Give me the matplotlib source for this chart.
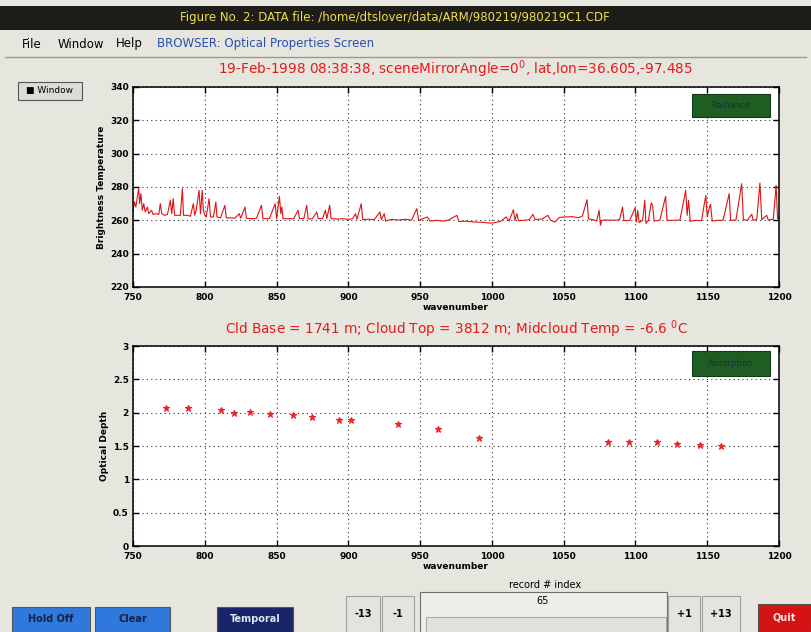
import numpy as np
import matplotlib.pyplot as plt
from matplotlib.patches import Rectangle

# ----------------------------------------------------------------- #
# Données
wavenumber = [750, 751, 752, 753, 754, 754.6, 755.5, 756.5, 757.5, 758.5, 760, 761, 763, 764,
              766, 768, 769, 770, 772, 774, 776, 777, 778, 779, 781, 783, 784.4, 785.2, 788,
              790, 792, 793, 794, 796, 797, 798.2, 799, 800, 801, 803, 804, 806, 807.7, 808.5,
              811, 814, 815, 818, 821, 824, 825, 828, 829, 833, 836, 839.5, 840.5, 845, 849,
              850, 852, 853, 853.7, 854.5, 858, 862, 865, 866, 869, 871, 872, 875, 878, 879,
              882, 884, 885, 887, 888, 892, 896, 900, 903, 905, 906, 909, 910, 914, 918, 922,
              923, 925, 926, 930, 935, 940, 944, 947.7, 949, 952, 955, 957, 962, 966, 970,
              975.6, 977, 982, 988, 994, 999, 1002, 1006, 1010, 1012, 1015, 1016, 1017.4,
              1018.5, 1022, 1026, 1028.6, 1030, 1035, 1039, 1041, 1044, 1047, 1052, 1056,
              1060, 1063, 1066.3, 1067.3, 1070, 1073, 1074.7, 1075.6, 1076.5, 1080, 1085,
              1089, 1091, 1092, 1096, 1099.8, 1100.6, 1101.6, 1102.6, 1105, 1106.5, 1107.3,
              1109, 1111, 1112, 1113, 1117, 1121, 1122, 1126, 1131, 1135, 1136, 1137, 1138.2,
              1142, 1146, 1149, 1150, 1151, 1152.3, 1153.5, 1157, 1161, 1165.3, 1166.3, 1170,
              1174, 1175.2, 1178, 1181, 1182, 1184.5, 1186.7, 1188, 1191.4, 1192.5, 1196,
              1198, 1199, 1200]
bright_temp = [266, 271, 268, 274, 279, 270, 276, 266, 270, 265, 268, 264, 266, 263.5,
               264, 263.5, 270, 264, 263, 263.5, 272, 264, 273, 263, 263, 263, 279, 263, 263,
               262.5, 270, 263, 266, 278, 264, 278, 266, 263, 262, 273, 262, 262, 271, 262,
               261.5, 269, 261.5, 261.5, 261.3, 264, 261.3, 268, 261.2, 261, 261.2, 269, 261, 261, 270,
               261, 274.4, 264, 268, 261, 261, 261, 266, 261, 261, 269, 260.8, 261, 265, 261,
               261, 266, 261, 269, 261, 260.8, 261, 260.6, 261, 264, 260.6, 270, 260.5, 260.7, 260.4, 265,
               260.5, 264, 259.6, 260.6, 260.2, 260.6, 260.1, 267, 260, 261, 262, 259.6, 260, 259.5, 260.2,
               263, 259.3, 259.5, 259, 258.8, 258.3, 258.6, 259.4, 262, 259.6, 266.4, 260, 264,
               259.8, 260, 260.3, 263.6, 260.5, 260.8, 263, 260, 259, 261.8, 262, 262.2,
               261.6, 262.5, 272.4, 260.8, 260.5, 259.6, 266, 257, 260, 260.2, 260,
               260.4, 268, 259.8, 260, 267.6, 259, 266, 258.6, 260, 272, 258.2,
               260, 270.4, 269, 259.6, 260, 274.4, 260, 260, 260.2, 278, 263, 272, 259.4,
               260, 259.8, 275, 262, 266, 269.6, 259.6, 260, 260, 276, 260, 260.2,
               282, 260.4, 260, 263.6, 260, 260.6, 282.4, 260.4, 263, 260.2, 260.6,
               281, 261, 262]

od_wavenumber = [772.8, 788.4, 811, 820.2, 831.4, 845.3, 861.6, 874.9, 893.7, 901.6,
                 934.9, 962.3, 991, 1080.9, 1095.6, 1115.3, 1128.6, 1145.3, 1159.5]
optical_depth = [2.065, 2.065, 2.04, 1.99, 2.01, 1.975, 1.965, 1.94, 1.89, 1.89,
                 1.83, 1.75, 1.62, 1.56, 1.56, 1.56, 1.525, 1.51, 1.495]

xticks = [750, 800, 850, 900, 950, 1000, 1050, 1100, 1150, 1200]
bt_ticks = [220, 240, 260, 280, 300, 320, 340]
od_ticks = [0, 0.5, 1, 1.5, 2, 2.5, 3]

titre_haut = "19-Feb-1998 08:38:38, sceneMirrorAngle=0$^0$, lat,lon=36.605,-97.485"
titre_bas = "Cld Base = 1741 m; Cloud Top = 3812 m; Midcloud Temp = -6.6 $^0$C"

# ----------------------------------------------------------------- #
W, H = 811, 632
fond = "#e6e6df"
rouge = "#e31b1b"

fig = plt.figure(figsize=(W / 100, H / 100), dpi=100, facecolor=fond)

# Calque en pixels pour la fenêtre (barre de titre, menu, boutons)
gui = fig.add_axes([0, 0, 1, 1], zorder=3)
gui.set_xlim(0, W)
gui.set_ylim(H, 0)
gui.axis("off")
gui.patch.set_alpha(0)


def bouton(x0, y0, x1, y1, texte, fc, tc, fs=7, ec="#555555", bold=True):
    gui.add_patch(Rectangle((x0, y0), x1 - x0, y1 - y0, facecolor=fc, edgecolor=ec, lw=0.8))
    gui.text((x0 + x1) / 2, (y0 + y1) / 2, texte, ha="center", va="center",
             fontsize=fs, color=tc, fontweight="bold" if bold else "normal")


# Barre de titre
gui.add_patch(Rectangle((0, 6), W, 24, facecolor="#1d1d1a", edgecolor="none"))
gui.text(395, 18, "Figure No. 2: DATA file: /home/dtslover/data/ARM/980219/980219C1.CDF",
         ha="center", va="center", fontsize=8.5, color="#f0dc50")
# Menu
gui.text(22, 44, "File", fontsize=8.5, va="center", color="black")
gui.text(58, 44, "Window", fontsize=8.5, va="center", color="black")
gui.text(116, 44, "Help", fontsize=8.5, va="center", color="black")
gui.text(157, 44, "BROWSER: Optical Properties Screen", fontsize=8.5, va="center", color="#2a4fb0")
gui.plot([5, W - 5], [57, 57], color="#9a9a94", lw=1)

bouton(18, 82, 82, 100, "■ Window", "#dcdcd6", "black", fs=6.5, bold=False)

# Boutons du bas
bouton(12, 607, 90, 632, "Hold Off", "#2f78dc", "#16224a")
bouton(95, 607, 170, 632, "Clear", "#2f78dc", "#16224a")
bouton(217, 607, 293, 632, "Temporal", "#18256a", "#dfe4f2")
bouton(346, 596, 380, 632, "-13", "#e4e4de", "black", ec="#a0a0a0")
bouton(382, 596, 414, 632, "-1", "#e4e4de", "black", ec="#a0a0a0")
gui.add_patch(Rectangle((420, 592), 247, 40, facecolor="#eeeee8", edgecolor="#707070", lw=0.8))
gui.add_patch(Rectangle((426, 617), 240, 15, facecolor="#e2e2dc", edgecolor="#9a9a9a", lw=0.6))
gui.text(543, 601, "65", ha="center", va="center", fontsize=7, color="black")
gui.text(545, 585, "record # index", ha="center", va="center", fontsize=7, color="black")
bouton(668, 596, 700, 632, "+1", "#e4e4de", "black", ec="#a0a0a0")
bouton(702, 596, 740, 632, "+13", "#e4e4de", "black", ec="#a0a0a0")
bouton(758, 604, 811, 632, "Quit", "#d41414", "#f6e6e6")

# ----------------------------------------------------------------- #
# Axes des deux graphiques
ax_l, ax_w, ax_h = 133 / W, 646 / W, 200 / H
ax1 = fig.add_axes([ax_l, 1 - 287 / H, ax_w, ax_h], zorder=2)
ax2 = fig.add_axes([ax_l, 1 - 546 / H, ax_w, ax_h], zorder=2)

ax1.plot(wavenumber, bright_temp, color="#e01212", lw=0.8)
ax1.set_ylim(220, 340)
ax1.set_yticks(bt_ticks)
ax1.set_ylabel("Brightness Temperature", fontsize=6.5, fontweight="bold", labelpad=3)
ax1.set_title(titre_haut, color=rouge, fontsize=9.8, pad=9)

ax2.plot(od_wavenumber, optical_depth, "*", color="#ee2222", ms=5, mew=0.8)
ax2.set_ylim(0, 3)
ax2.set_yticks(od_ticks)
ax2.set_yticklabels(["0", "0.5", "1", "1.5", "2", "2.5", "3"])
ax2.set_ylabel("Optical Depth", fontsize=6.5, fontweight="bold", labelpad=3)
ax2.set_title(titre_bas, color=rouge, fontsize=9.8, pad=9)

for ax, y_bouton in [(ax1, (94, 117)), (ax2, (351, 376))]:
    ax.set_xlim(750, 1200)
    ax.set_xticks(xticks)
    ax.set_xlabel("wavenumber", fontsize=6.5, fontweight="bold", labelpad=1)
    ax.grid(True, linestyle=(0, (1, 3)), color="#333333", lw=0.8)
    ax.tick_params(direction="in", length=4, width=1, top=True, right=True,
                   labelsize=6.5)
    ax.tick_params(axis="x", pad=4)
    ax.tick_params(axis="y", pad=3)
    for lab in ax.get_xticklabels() + ax.get_yticklabels():
        lab.set_fontweight("bold")
    for sp in ax.spines.values():
        sp.set_linewidth(1.1)
    # bouton vert dans le coin
    gui_y0, gui_y1 = y_bouton
    gui.add_patch(Rectangle((692, gui_y0), 78, gui_y1 - gui_y0, facecolor="#1f5e22",
                            edgecolor="#133a14", lw=0.8, zorder=5))

gui.text(731, 105.5, "Radiance", ha="center", va="center", fontsize=6, color="#1e2c48", zorder=6)
gui.text(731, 363.5, "Absorption", ha="center", va="center", fontsize=6, color="#1e2c48", zorder=6)

fig.savefig("out.png", dpi=100, facecolor=fond)
